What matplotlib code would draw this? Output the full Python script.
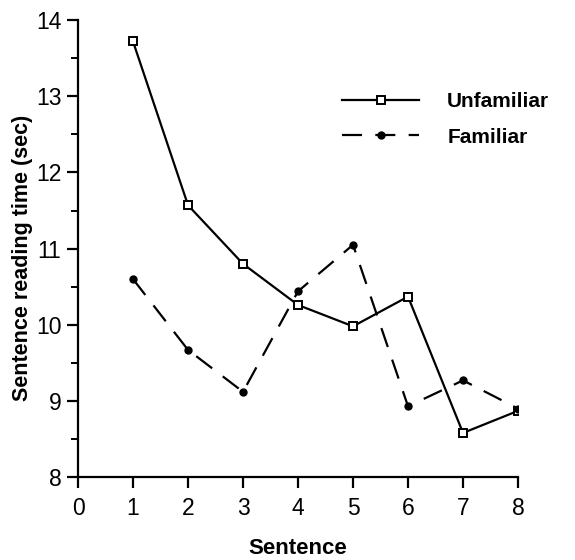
import matplotlib.pyplot as plt
import numpy as np

# sentence number and mean reading time (sec) per condition
sentences = [1, 2, 3, 4, 5, 6, 7, 8]
unfamiliar = [13.72, 11.57, 10.8, 10.26, 9.98, 10.37, 8.58, 8.87]
familiar = [10.6, 9.67, 9.12, 10.44, 11.05, 8.93, 9.27, 8.9]

plt.rcParams['font.family'] = ['Liberation Sans', 'DejaVu Sans']

fig = plt.figure(figsize=(5.75, 5.6), dpi=100)
ax = fig.add_axes([0.1357, 0.148, 0.7652, 0.816])

ax.plot(sentences, unfamiliar, color='black', linewidth=1.6, marker='s',
        markersize=5.5, markerfacecolor='white', markeredgecolor='black',
        markeredgewidth=1.4, label='Unfamiliar')
ax.plot(sentences, familiar, color='black', linewidth=1.6, linestyle=(0, (9, 6)),
        marker='o', markersize=5, markerfacecolor='black', label='Familiar')

ax.set_xlim(0, 8)
ax.set_ylim(8, 14)
ax.set_xticks(np.arange(0, 9))
ax.set_yticks(np.arange(8, 15))
ax.set_yticks(np.arange(8.5, 14, 1), minor=True)

for side in ['top', 'right']:
    ax.spines[side].set_visible(False)
for side in ['left', 'bottom']:
    ax.spines[side].set_linewidth(1.6)

ax.tick_params(axis='both', which='major', direction='out', length=8, width=1.6,
               labelsize=16.5, colors='black', pad=4)
ax.tick_params(axis='x', which='major', pad=6)
ax.tick_params(axis='y', which='minor', direction='out', length=5, width=1.4)

ax.set_xlabel('Sentence', fontsize=16, fontweight='bold', labelpad=13)
ax.set_ylabel('Sentence reading time (sec)', fontsize=15.5, fontweight='bold')
ax.yaxis.set_label_coords(-0.102, 0.48)

leg = ax.legend(loc='upper left', bbox_to_anchor=(0.6, 0.842), frameon=False,
                borderpad=0, borderaxespad=0,
                handlelength=3.7, numpoints=1, fontsize=15, handletextpad=1.35,
                labelspacing=0.78)
for t in leg.get_texts():
    t.set_fontweight('bold')

fig.savefig('out.png', dpi=100, facecolor='white')
